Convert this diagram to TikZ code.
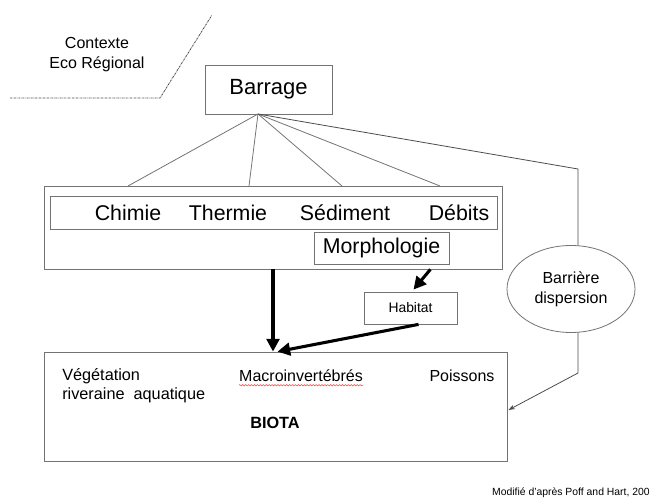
\documentclass[tikz,border=0pt]{standalone}
\usepackage{fontspec}
\setmainfont{Liberation Sans}
\usetikzlibrary{positioning,calc,arrows.meta,shapes.geometric,decorations.pathmorphing}

\tikzset{
	box/.style = {draw=black!55, line width=0.6pt, rectangle, inner sep=0pt},
	lbl/.style = {inner sep=0pt, font=\fontsize{12}{14}\selectfont},
	big/.style = {line width=2.3pt, -{Triangle[length=9.5pt,width=9.5pt]}},
	thin/.style = {draw=black!55, line width=0.6pt},
}

\begin{document}
\begin{tikzpicture}[x=0.75pt, y=-0.75pt]
	\useasboundingbox (0,0) rectangle (654,502);

	\node[lbl, align=center, font=\fontsize{12}{15}\selectfont] (ctx) at (97,55) {Contexte\\Eco Régional};
	\coordinate (d1) at (10,98);
	\coordinate (d2) at (160,98);
	\coordinate (d3) at (212,15);
	\draw[black!70, line width=0.6pt, dash pattern=on 1.5pt off 0.6pt on 0.4pt off 0.6pt] (d1) -- (d2) -- (d3);

	\node[box, minimum width=95.25pt, minimum height=36.75pt, font=\fontsize{16.5}{18}\selectfont] (barrage) at (268.5,89.5) {Barrage};

	\node[box, minimum width=343.5pt, minimum height=62.25pt] (outer) at (273,227.5) {};
	\node[box, minimum width=335.25pt, minimum height=24.75pt] (inner) at (273.5,212.5) {};
	\node[lbl, font=\fontsize{16}{18}\selectfont] (chimie) at (128,213) {Chimie};
	\node[lbl, font=\fontsize{16}{18}\selectfont] (thermie) at (228,213) {Thermie};
	\node[lbl, font=\fontsize{16}{18}\selectfont] (sediment) at (345,213) {Sédiment};
	\node[lbl, font=\fontsize{16}{18}\selectfont] (debits) at (459,213) {Débits};
	\node[box, fill=white, minimum width=101.25pt, minimum height=24pt, font=\fontsize{16}{18}\selectfont] (morpho) at (381.5,248) {Morphologie};

	\node[box, minimum width=69.75pt, minimum height=24pt, font=\fontsize{10.4}{12}\selectfont] (habitat) at (410.5,308) {Habitat};

	\node[box, minimum width=347.25pt, minimum height=81.75pt] (biota) at (275.5,406.5) {};
	\node[lbl, anchor=north west, align=left, font=\fontsize{12.2}{14.5}\selectfont] (veget) at (62,368) {Végétation\\riveraine\ \ aquatique};
	\node[lbl] (macro) at (301,376) {Macroinvertébrés};
	\node[lbl] (poissons) at (462,376) {Poissons};
	\node[lbl, font=\fontsize{12.2}{14}\bfseries] (biotalbl) at (275,423) {BIOTA};
	\draw[red!75, line width=0.4pt, decorate, decoration={snake, amplitude=0.5pt, segment length=2.2pt}]
		($(macro.south west)+(0,3)$) -- ($(macro.south east)+(0,3)$);

	\coordinate (fan) at (258,114);
	\foreach \x [count=\i] in {128,249,342,440}
		\coordinate (t\i) at (\x,186);
	\foreach \i in {1,...,4}
		\draw[thin] (fan) -- (t\i);

	\coordinate (k1) at (578,169);
	\coordinate (k2) at (578,373);
	\draw[thin, -{Stealth[length=5pt,width=3.5pt]}, black!70] (fan) -- (k1) -- (k2) -- ($(biota.east)+(1,3.5)$);
	\node[ellipse, draw=black!55, line width=0.6pt, fill=white, minimum width=96pt, minimum height=65.25pt, inner sep=0pt, align=center, font=\fontsize{12}{15}\selectfont] (barriere) at (571,289) {Barrière\\dispersion};

	\draw[big] (outer.south) -- (outer.south |- biota.north);
	\draw[big] ($(morpho.south east)+(-19,5)$) -- ($(habitat.north)+(3,-2)$);
	\draw[big] ($(habitat.south)+(8,0)$) -- ($(biota.north)+(2,0)$);

	\node[lbl, anchor=east, font=\fontsize{7.8}{9}\selectfont] (source) at (650,493) {Modifié d'après Poff and Hart, 200};
\end{tikzpicture}
\end{document}
